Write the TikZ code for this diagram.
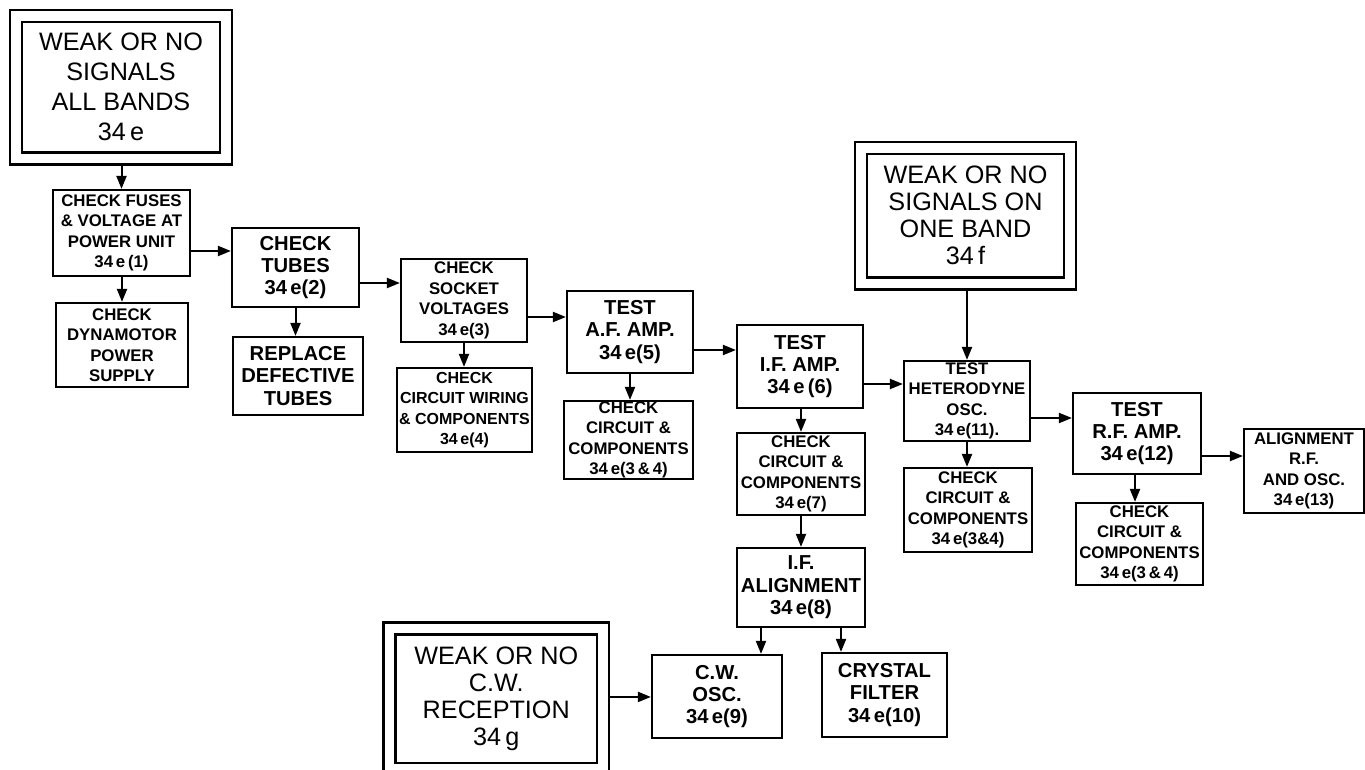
\documentclass[tikz,border=0pt]{standalone}
\usepackage{fontspec}
\setmainfont{Liberation Sans}
\usetikzlibrary{arrows.meta}

\begin{document}
\begin{tikzpicture}[x=0.5pt, y=-0.5pt,
    box/.style={draw, line width=1.1pt, align=center, inner sep=0pt,
                font=\fontsize{8.4}{10.25}\selectfont\bfseries},
    midbox/.style={box, font=\fontsize{10.1}{11.2}\selectfont\bfseries},
    bigbox/.style={draw, double, line width=1.25pt, double distance=4.75pt,
                   outer sep=3.6pt, align=center, inner sep=0pt,
                   font=\fontsize{12.6}{13.5}\selectfont},
    arr/.style={-{Triangle[length=6.5pt,width=5pt]}, line width=1pt}
]
\useasboundingbox (0,0) rectangle (1365,770);
\clip (0,0) rectangle (1365,770);

% starting points
\node[bigbox, minimum width=105pt, minimum height=71.25pt, font=\fontsize{12.6}{15}\selectfont] (allbands) at (121,87.25) {WEAK OR NO\\SIGNALS\\ALL BANDS\\34\,e};
\node[bigbox, minimum width=104.5pt, minimum height=67.75pt] (oneband) at (965.5,215.75) {WEAK OR NO\\SIGNALS ON\\ONE BAND\\34\,f};
\node[bigbox, minimum width=106.75pt, minimum height=70.25pt] (cwband) at (496.25,698.75) {WEAK OR NO\\C.W.\\RECEPTION\\34\,g};

% main chain
\node[box, minimum width=68.5pt, minimum height=43pt] (fuses) at (121.5,233) {CHECK FUSES\\\& VOLTAGE AT\\POWER UNIT\\34\,e\,(1)};
\node[box, minimum width=66pt, minimum height=42pt] (dynamo) at (122,345) {CHECK\\DYNAMOTOR\\POWER\\SUPPLY};
\node[midbox, minimum width=63.5pt, minimum height=39.5pt] (tubes) at (295.5,267.5) {CHECK\\TUBES\\34\,e(2)};
\node[midbox, minimum width=65pt, minimum height=39pt] (replace) at (298,376) {REPLACE\\DEFECTIVE\\TUBES};
\node[box, minimum width=63pt, minimum height=41.5pt] (socket) at (464,300.5) {CHECK\\SOCKET\\VOLTAGES\\34\,e(3)};
\node[box, minimum width=67.5pt, minimum height=42pt, font=\fontsize{8}{10.25}\selectfont\bfseries] (wiring) at (464.5,410) {CHECK\\CIRCUIT WIRING\\\& COMPONENTS\\34\,e(4)};
\node[midbox, minimum width=63pt, minimum height=41pt] (afamp) at (630,332) {TEST\\A.F. AMP.\\34\,e(5)};
\node[box, minimum width=64.5pt, minimum height=39pt] (afchk) at (628.5,440) {CHECK\\CIRCUIT \&\\COMPONENTS\\34\,e(3\,\&\,4)};
\node[midbox, minimum width=63pt, minimum height=41.5pt] (ifamp) at (800,366.5) {TEST\\I.F. AMP.\\34\,e\,(6)};
\node[box, minimum width=64pt, minimum height=41pt] (ifchk) at (801,474) {CHECK\\CIRCUIT \&\\COMPONENTS\\34\,e(7)};
\node[midbox, minimum width=64pt, minimum height=39.5pt] (ifalign) at (801,587.5) {I.F.\\ALIGNMENT\\34\,e(8)};
\node[midbox, minimum width=65pt, minimum height=41.5pt] (cwosc) at (717,696.5) {C.W.\\OSC.\\34\,e(9)};
\node[midbox, minimum width=62.5pt, minimum height=42pt] (crystal) at (884.5,695) {CRYSTAL\\FILTER\\34\,e(10)};
\node[box, minimum width=63pt, minimum height=40pt] (hetosc) at (967,401) {TEST\\HETERODYNE\\OSC.\\34\,e(11).};
\node[box, minimum width=64pt, minimum height=42pt] (hetchk) at (968,510) {CHECK\\CIRCUIT \&\\COMPONENTS\\34\,e(3\&4)};
\node[midbox, minimum width=64pt, minimum height=40.5pt] (rfamp) at (1137,433.5) {TEST\\R.F. AMP.\\34\,e(12)};
\node[box, minimum width=63.5pt, minimum height=41pt] (rfchk) at (1139.5,544) {CHECK\\CIRCUIT \&\\COMPONENTS\\34\,e(3\,\&\,4)};
\node[box, minimum width=60pt, minimum height=42pt] (align) at (1304,471) {ALIGNMENT\\R.F.\\AND OSC.\\34\,e(13)};

% vertical arrows
\draw[arr] (allbands.south -| fuses.north) -- (fuses.north);
\draw[arr] (fuses.south -| dynamo.north) -- (dynamo.north);
\draw[arr] (tubes.south) -- (tubes.south |- replace.north);
\draw[arr] (socket.south) -- (socket.south |- wiring.north);
\draw[arr] (afamp.south) -- (afamp.south |- afchk.north);
\draw[arr] (ifamp.south -| ifchk.north) -- (ifchk.north);
\draw[arr] (ifchk.south) -- (ifchk.south |- ifalign.north);
\draw[arr] ([xshift=-20pt]ifalign.south) coordinate (c1) -- (c1 |- cwosc.north);
\draw[arr] ([xshift=20pt]ifalign.south) coordinate (c2) -- (c2 |- crystal.north);
\draw[arr] (oneband.south -| hetosc.north) -- (hetosc.north);
\draw[arr] (hetosc.south) -- (hetosc.south |- hetchk.north);
\draw[arr] ([xshift=-1pt]rfamp.south) coordinate (c3) -- (c3 |- rfchk.north);

% horizontal arrows
\draw[arr] ([yshift=-9pt]fuses.east) coordinate (a1) -- (a1 -| tubes.west);
\draw[arr] ([yshift=-7.75pt]tubes.east) coordinate (a2) -- (a2 -| socket.west);
\draw[arr] ([yshift=-8.25pt]socket.east) coordinate (a3) -- (a3 -| afamp.west);
\draw[arr] ([yshift=-9pt]afamp.east) coordinate (a4) -- (a4 -| ifamp.west);
\draw[arr] ([yshift=-8.75pt]ifamp.east) coordinate (a5) -- (a5 -| hetosc.west);
\draw[arr] ([yshift=-8.5pt]hetosc.east) coordinate (a6) -- (a6 -| rfamp.west);
\draw[arr] ([yshift=-11.25pt]rfamp.east) coordinate (a7) -- (a7 -| align.west);
\draw[arr] ([yshift=0.9pt]cwband.east) coordinate (a8) -- (a8 -| cwosc.west);
\end{tikzpicture}
\end{document}
